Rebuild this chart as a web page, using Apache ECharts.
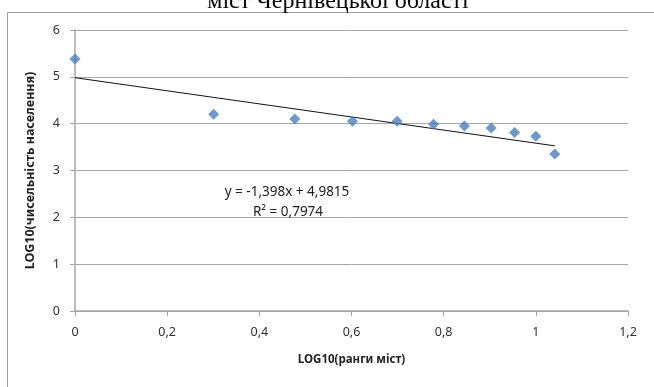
<!DOCTYPE html>
<html>
<head>
<meta charset="utf-8">
<script src="https://cdn.jsdelivr.net/npm/echarts@6/dist/echarts.min.js"></script>
<style>
html,body{margin:0;padding:0;background:#fff;}
#c{width:654px;height:387px;}
</style>
</head>
<body>
<div id="c"></div>
<script>
const titleText = 'міст Чернівецької області';
const xAxisTitle = 'LOG10(ранги міст)';
const yAxisTitle = 'LOG10(чисельність населення)';
const logRank = [0, 0.301, 0.477, 0.602, 0.699, 0.778, 0.845, 0.903, 0.954, 1.0, 1.041];
const logPop = [5.38, 4.20, 4.10, 4.05, 4.05, 3.99, 3.95, 3.91, 3.81, 3.73, 3.35];
const slope = -1.398;
const intercept = 4.9815;
const eqText = 'y = -1,398x + 4,9815';
const r2Text = 'R² = 0,7974';
const xTicks = ['0', '0,2', '0,4', '0,6', '0,8', '1', '1,2'];

const pts = logRank.map((x, i) => [x, logPop[i]]);
const xMin = logRank[0], xMax = logRank[logRank.length - 1];
const trend = [[xMin, slope * xMin + intercept], [xMax, slope * xMax + intercept]];

const font = '"Noto Sans", "Open Sans", sans-serif';
const chart = echarts.init(document.getElementById('c'));
chart.setOption({
  animation: false,
  backgroundColor: '#fff',
  grid: { left: 75, right: 26, top: 30, bottom: 76 },
  xAxis: {
    type: 'value', min: 0, max: 1.2, interval: 0.2,
    name: xAxisTitle, nameLocation: 'middle', nameGap: 43,
    nameTextStyle: { fontFamily: font, fontSize: 11.5, fontWeight: 'bold', color: '#222' },
    axisLine: { show: true, onZero: false, lineStyle: { color: '#a6a6a6', width: 1.5 } },
    axisTick: { show: true, length: 5, inside: false, lineStyle: { color: '#a6a6a6' } },
    axisLabel: { fontFamily: font, fontSize: 12.5, color: '#303030', margin: 15,
      formatter: v => xTicks[Math.round(v / 0.2)] },
    splitLine: { show: false }
  },
  yAxis: {
    type: 'value', min: 0, max: 6, interval: 1,
    name: yAxisTitle, nameLocation: 'middle', nameGap: 38, nameRotate: 90,
    nameTextStyle: { fontFamily: font, fontSize: 12.5, fontWeight: 'bold', color: '#222' },
    axisLine: { show: true, onZero: false, lineStyle: { color: '#a6a6a6', width: 1.5 } },
    axisTick: { show: true, length: 5, inside: false, lineStyle: { color: '#a6a6a6' } },
    axisLabel: { fontFamily: font, fontSize: 12.5, color: '#303030', margin: 15 },
    splitLine: { show: true, lineStyle: { color: '#a6a6a6', width: 1 } }
  },
  series: [
    {
      type: 'line', data: trend, symbol: 'none', z: 3,
      lineStyle: { color: '#111', width: 1 }
    },
    {
      type: 'scatter', data: pts, symbol: 'diamond', symbolSize: 11, z: 4,
      itemStyle: { color: '#4a7ebb' }
    }
  ],
  graphic: [
    { type: 'polyline', shape: { points: [[7.5, 387], [7.5, 12.5], [654, 12.5]] },
      style: { stroke: '#9a9a9a', lineWidth: 1, fill: null }, z: 10 },
    { type: 'text', x: 338, y: 14, z: 10,
      style: { text: titleText, font: '24px "Liberation Serif", serif', fill: '#000',
        textAlign: 'center', textVerticalAlign: 'bottom' } },
    { type: 'text', x: 287, y: 192, z: 10,
      style: { text: eqText, font: '13.5px ' + font, fill: '#222',
        textAlign: 'center', textVerticalAlign: 'middle' } },
    { type: 'text', x: 288, y: 212, z: 10,
      style: { text: r2Text, font: '13.5px ' + font, fill: '#222',
        textAlign: 'center', textVerticalAlign: 'middle' } }
  ]
});
</script>
</body>
</html>
